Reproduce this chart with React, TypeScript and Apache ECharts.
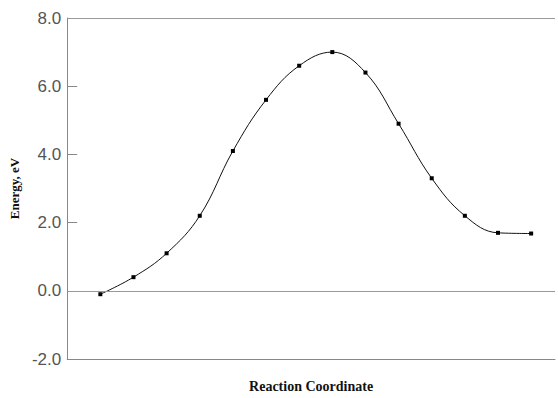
import React, { useEffect, useRef } from "react";
import * as echarts from "echarts";

const positions = [1, 2, 3, 4, 5, 6, 7, 8, 9, 10, 11, 12, 13, 14];
const energies = [-0.1, 0.4, 1.1, 2.2, 4.1, 5.6, 6.6, 7.0, 6.4, 4.9, 3.3, 2.2, 1.7, 1.68];
const yTicks = [-2, 0, 2, 4, 6, 8];

export default function App() {
  const ref = useRef<HTMLDivElement>(null);
  useEffect(() => {
    document.body.style.margin = "0";
    if (!ref.current) return;
    const chart = echarts.init(ref.current, null, { renderer: "svg" });
    const data = positions.map((p, i) => [p, energies[i]]);
    chart.setOption({
      animation: false,
      backgroundColor: "#fff",
      grid: { left: 67, right: 3, top: 18, bottom: 31, containLabel: false },
      xAxis: {
        type: "value",
        min: 0,
        max: 14.72,
        name: "Reaction Coordinate",
        nameLocation: "middle",
        nameGap: 20,
        nameTextStyle: { fontFamily: "Liberation Serif", fontWeight: "bold", fontSize: 14, color: "#111" },
        axisLine: { show: true, onZero: false, lineStyle: { color: "#888", width: 1 } },
        axisTick: { show: false },
        axisLabel: { show: false },
        splitLine: { show: false },
      },
      yAxis: {
        type: "value",
        min: yTicks[0],
        max: yTicks[yTicks.length - 1],
        interval: 2,
        name: "Energy, eV",
        nameLocation: "middle",
        nameGap: 39,
        nameTextStyle: { fontFamily: "Liberation Serif", fontWeight: "bold", fontSize: 13, color: "#111" },
        axisLine: { show: true, lineStyle: { color: "#888", width: 1 } },
        axisTick: { show: true, inside: true, length: 10, lineStyle: { color: "#888" } },
        axisLabel: {
          margin: 6,
          fontFamily: "Liberation Sans",
          fontSize: 17,
          color: "#555",
          formatter: (v: number) => v.toFixed(1),
        },
        splitLine: { show: false },
      },
      series: [
        {
          type: "line",
          data,
          smooth: 0.4,
          symbol: "rect",
          symbolSize: 4,
          lineStyle: { color: "#111", width: 1 },
          itemStyle: { color: "#000" },
          markLine: {
            silent: true,
            symbol: "none",
            label: { show: false },
            lineStyle: { color: "#999", width: 1, type: "solid" },
            data: [{ yAxis: 0 }, { yAxis: 8 }],
          },
        },
      ],
    });
    return () => chart.dispose();
  }, []);
  return <div ref={ref} style={{ width: 558, height: 398 }} />;
}
